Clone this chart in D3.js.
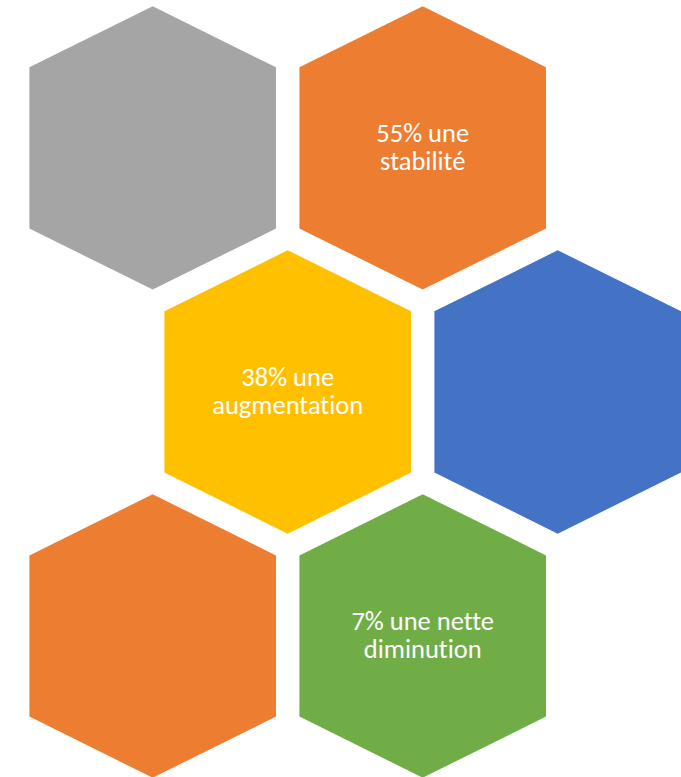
<!DOCTYPE html>
<html>
<head>
<meta charset="utf-8">
<script src="https://cdn.jsdelivr.net/npm/d3@7"></script>
<style>
html,body{margin:0;padding:0;background:#fff;}
svg{display:block;}
text{font-variant-ligatures:none;font-feature-settings:"liga" 0,"clig" 0;}
</style>
</head>
<body>
<svg id="chart" width="681" height="777"></svg>
<script>
// Data
const cells = ["gris", "stabilite", "augmentation", "bleu", "orange2", "diminution"];
const percents = [null, 55, 38, null, null, 7];
const labelTexts = ["", "une stabilité", "une augmentation", "", "", "une nette diminution"];
const lineBreaks = [[], ["55% une", "stabilité"], ["38% une", "augmentation"], [], [], ["7% une nette", "diminution"]];
const colors = ["#A5A5A5", "#ED7D31", "#FFC000", "#4472C4", "#ED7D31", "#70AD47"];
const gridCols = [0, 1, 0.5, 1.5, 0, 1];
const gridRows = [0, 0, 1, 1, 2, 2];

const svg = d3.select("#chart");
const x = d3.scaleLinear().domain([0, 1]).range([152.7, 422.7]);
const y = d3.scaleLinear().domain([0, 2]).range([147.9, 636]);

const hw = 123.3, hh = 141.7, sh = 80.6;
function hexPath(cx, cy) {
  const p = d3.path();
  p.moveTo(cx, cy - hh);
  p.lineTo(cx + hw, cy - sh);
  p.lineTo(cx + hw, cy + sh);
  p.lineTo(cx, cy + hh);
  p.lineTo(cx - hw, cy + sh);
  p.lineTo(cx - hw, cy - sh);
  p.closePath();
  return p.toString();
}

const data = cells.map((c, i) => ({
  id: c, pct: percents[i], label: labelTexts[i], lines: lineBreaks[i],
  color: colors[i], col: gridCols[i], row: gridRows[i]
}));

const g = svg.selectAll("g.hex").data(data).join("g").attr("class", "hex");
g.append("path")
  .attr("d", d => hexPath(x(d.col), y(d.row)))
  .attr("fill", d => d.color);

g.each(function(d) {
  if (!d.lines.length) return;
  const t = d3.select(this).append("text")
    .attr("text-anchor", "middle")
    .attr("fill", "#fff")
    .attr("font-family", "Carlito, Lato, 'Open Sans', sans-serif")
    .attr("font-weight", 300)
    .attr("font-size", 26.5);
  d.lines.forEach((ln, k) => {
    t.append("tspan")
      .attr("x", x(d.col))
      .attr("y", y(d.row) - 6 + k * 28)
      .text(ln);
  });
});
</script>
</body>
</html>
